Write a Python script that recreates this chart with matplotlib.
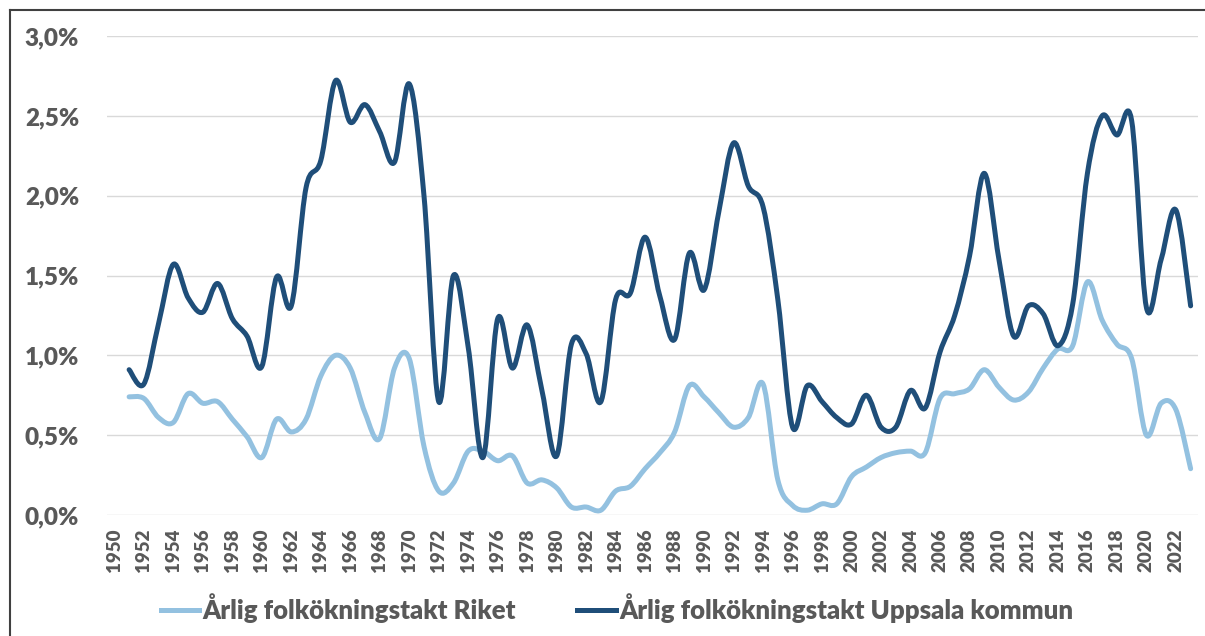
import matplotlib
matplotlib.use("Agg")
import matplotlib.pyplot as plt
import numpy as np
from matplotlib.lines import Line2D
from matplotlib.path import Path
from matplotlib.patches import PathPatch

# Annual population growth (%), 1951-2023
years = list(range(1951, 2024))
riket = [
    0.74, 0.73, 0.61, 0.58, 0.76, 0.70, 0.71, 0.60, 0.49, 0.36,  # 1951-1960
    0.60, 0.52, 0.60, 0.87, 1.00, 0.92, 0.64, 0.48, 0.92, 0.98,  # 1961-1970
    0.43, 0.15, 0.20, 0.40, 0.40, 0.34, 0.37, 0.20, 0.22, 0.17,  # 1971-1980
    0.05, 0.05, 0.03, 0.15, 0.18, 0.29, 0.39, 0.52, 0.81, 0.74,  # 1981-1990
    0.64, 0.55, 0.61, 0.82, 0.22, 0.06, 0.03, 0.07, 0.07, 0.24,  # 1991-2000
    0.30, 0.36, 0.39, 0.40, 0.39, 0.73, 0.76, 0.79, 0.91, 0.80,  # 2001-2010
    0.72, 0.77, 0.92, 1.04, 1.06, 1.46, 1.22, 1.07, 0.98, 0.50,  # 2011-2020
    0.70, 0.66, 0.29,                                            # 2021-2023
]
uppsala = [
    0.91, 0.82, 1.20, 1.57, 1.36, 1.27, 1.45, 1.23, 1.12, 0.93,  # 1951-1960
    1.49, 1.31, 2.05, 2.22, 2.72, 2.46, 2.57, 2.40, 2.21, 2.70,  # 1961-1970
    2.00, 0.71, 1.50, 1.05, 0.36, 1.23, 0.92, 1.19, 0.78, 0.37,  # 1971-1980
    1.07, 1.01, 0.71, 1.35, 1.39, 1.74, 1.37, 1.10, 1.64, 1.41,  # 1981-1990
    1.90, 2.33, 2.06, 1.93, 1.35, 0.55, 0.81, 0.71, 0.61, 0.57,  # 1991-2000
    0.75, 0.55, 0.55, 0.78, 0.67, 1.02, 1.25, 1.62, 2.14, 1.60,  # 2001-2010
    1.12, 1.31, 1.26, 1.06, 1.32, 2.14, 2.50, 2.38, 2.47, 1.30,  # 2011-2020
    1.60, 1.91, 1.31,                                            # 2021-2023
]
series_labels = [
    "Årlig folkökningstakt Riket",
    "Årlig folkökningstakt Uppsala kommun",
]
y_ticks = [0.0, 0.5, 1.0, 1.5, 2.0, 2.5, 3.0]
y_tick_labels = ["0,0%", "0,5%", "1,0%", "1,5%", "2,0%", "2,5%", "3,0%"]
x_ticks = list(range(1950, 2023, 2))

LIGHT = "#93C1E0"
DARK = "#1F4E79"
TEXT = "#595959"
FONT = ["Lato", "DejaVu Sans"]


def smooth_path(x, y):
    # Excel-style smoothed line: cubic Bezier segments with Catmull-Rom tangents
    x = np.asarray(x, dtype=float)
    y = np.asarray(y, dtype=float)
    pts = np.column_stack([x, y])
    n = len(pts)
    verts = [pts[0]]
    codes = [Path.MOVETO]
    for i in range(n - 1):
        p0 = pts[max(i - 1, 0)]
        p1 = pts[i]
        p2 = pts[i + 1]
        p3 = pts[min(i + 2, n - 1)]
        c1 = p1 + (p2 - p0) / 6.0
        c2 = p2 - (p3 - p1) / 6.0
        verts += [c1, c2, p2]
        codes += [Path.CURVE4] * 3
    return Path(verts, codes)


fig = plt.figure(figsize=(12.05, 6.36), dpi=100)
ax = fig.add_axes([107 / 1205, 1 - 515 / 636, (1198 - 107) / 1205, (515 - 36) / 636])

for vals, color in [(riket, LIGHT), (uppsala, DARK)]:
    patch = PathPatch(smooth_path(years, vals), facecolor="none", edgecolor=color,
                      lw=3.6, capstyle="round", joinstyle="round", clip_on=False, zorder=3)
    ax.add_patch(patch)

ax.set_xlim(1949.5, 2023.5)
ax.set_ylim(0, 3.0)
ax.set_yticks(y_ticks)
ax.set_yticklabels(y_tick_labels)
ax.set_xticks(x_ticks)
ax.set_xticklabels([str(v) for v in x_ticks], rotation=90)

ax.grid(axis="y", color="#D9D9D9", lw=1.0, zorder=0)
ax.set_axisbelow(True)
for s in ax.spines.values():
    s.set_visible(False)
ax.tick_params(axis="both", length=0)
ax.tick_params(axis="y", pad=20)
ax.tick_params(axis="x", pad=10)
for lab in ax.get_yticklabels():
    lab.set_fontfamily(FONT)
    lab.set_fontweight("heavy")
    lab.set_fontsize(17.5)
    lab.set_color(TEXT)
for lab in ax.get_xticklabels():
    lab.set_fontfamily(FONT)
    lab.set_fontweight("heavy")
    lab.set_fontsize(13.5)
    lab.set_color(TEXT)

handles = [Line2D([], [], color=LIGHT, lw=3.6), Line2D([], [], color=DARK, lw=3.6)]
leg = fig.legend(handles, series_labels, loc="center", bbox_to_anchor=(0.512, 0.044),
                 ncol=2, frameon=False, handlelength=1.5, handletextpad=0.12,
                 columnspacing=2.4, prop={"family": FONT, "weight": "heavy", "size": 18.5})
for t in leg.get_texts():
    t.set_color(TEXT)

# chart area border (left and top visible)
fig.add_artist(Line2D([10 / 1205, 10 / 1205], [0, 1 - 10 / 636], color="#404040", lw=1.5,
                      transform=fig.transFigure))
fig.add_artist(Line2D([10 / 1205, 1], [1 - 10 / 636, 1 - 10 / 636], color="#404040", lw=1.5,
                      transform=fig.transFigure))

fig.savefig("out.png", dpi=100)
